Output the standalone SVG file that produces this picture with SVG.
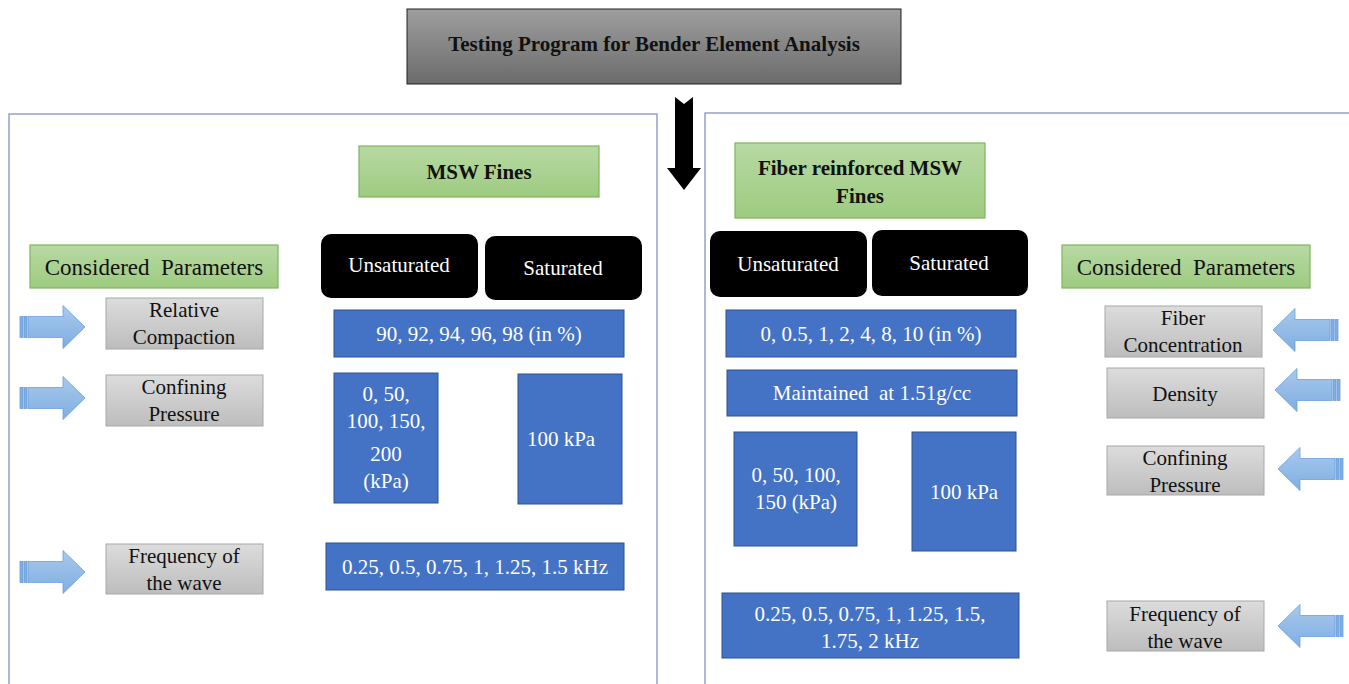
<svg xmlns="http://www.w3.org/2000/svg" width="1349" height="684" viewBox="0 0 1349 684" font-family="'Liberation Serif', serif">
<defs>
<linearGradient id="gTitle" x1="0" y1="0" x2="0" y2="1"><stop offset="0" stop-color="#9e9e9e"/><stop offset="1" stop-color="#6b6b6b"/></linearGradient>
<linearGradient id="gGreen" x1="0" y1="0" x2="0" y2="1"><stop offset="0" stop-color="#b7d9a3"/><stop offset="1" stop-color="#9ecb80"/></linearGradient>
<linearGradient id="gGray" x1="0" y1="0" x2="0" y2="1"><stop offset="0" stop-color="#dcdcdc"/><stop offset="1" stop-color="#bdbdbd"/></linearGradient>
<linearGradient id="gArrow" x1="0" y1="0" x2="0" y2="1"><stop offset="0" stop-color="#a9c9ec"/><stop offset="1" stop-color="#7eaee2"/></linearGradient>
<g id="rarrow">
<rect x="0" y="-10.5" width="3" height="21" fill="#7eaee2" stroke="#6b9fdc" stroke-width="0.8"/>
<rect x="4" y="-10.5" width="3" height="21" fill="#7eaee2" stroke="#6b9fdc" stroke-width="0.8"/>
<path d="M8,-10.5 H43 V-21.5 L65,0 L43,21.5 V10.5 H8 Z" fill="url(#gArrow)" stroke="#6b9fdc" stroke-width="0.8"/>
</g>
</defs>
<style>
text{font-family:'Liberation Serif',serif;text-anchor:middle;white-space:pre}
.b{font-weight:bold;font-size:21px;fill:#111}
.t{font-size:21px;fill:#111}
.w{font-size:21px;fill:#fff}
.cp{font-size:23px;fill:#111}
.panel{fill:#fff;stroke:#8196c2;stroke-width:1.3}
.green{fill:url(#gGreen);stroke:#7fb55c;stroke-width:1.2}
.gray{fill:url(#gGray);stroke:#a8a8a8;stroke-width:1}
.blue{fill:#4472c4;stroke:#2f528f;stroke-width:1}
.blk{fill:#000}
</style>
<rect width="1349" height="684" fill="#fff"/>

<g id="panel-left"><rect class="panel" x="9" y="114" width="648" height="580"/></g>
<g id="panel-right"><rect class="panel" x="705" y="113" width="660" height="580"/></g>

<g id="title">
<rect x="407" y="9" width="494" height="75" fill="url(#gTitle)" stroke="#222" stroke-width="1"/>
<text class="b" x="654" y="51">Testing Program for Bender Element Analysis</text>
</g>

<g id="connectors">
<path d="M675,97 L684,104 L693,97 V168 H701 L684,190 L667,168 H675 Z" fill="#000"/>
<use href="#rarrow" transform="translate(20,327)"/>
<use href="#rarrow" transform="translate(20,398)"/>
<use href="#rarrow" transform="translate(20,572)"/>
<use href="#rarrow" transform="translate(1338,330) scale(-1,1)"/>
<use href="#rarrow" transform="translate(1340,390) scale(-1,1)"/>
<use href="#rarrow" transform="translate(1343,469) scale(-1,1)"/>
<use href="#rarrow" transform="translate(1343,626) scale(-1,1)"/>
</g>

<g id="msw-fines"><rect class="green" x="359" y="146" width="240" height="51"/><text class="b" x="479" y="179">MSW Fines</text></g>
<g id="fiber-msw-fines"><rect class="green" x="735" y="143" width="250" height="75"/><text class="b" x="860" y="175">Fiber reinforced MSW</text><text class="b" x="860" y="203">Fines</text></g>

<g id="considered-left"><rect class="green" x="30" y="245" width="248" height="43"/><text class="cp" x="154" y="275">Considered  Parameters</text></g>
<g id="considered-right"><rect class="green" x="1062" y="245" width="248" height="43"/><text class="cp" x="1186" y="275">Considered  Parameters</text></g>

<g id="unsat-left"><rect class="blk" x="321" y="234" width="157" height="64" rx="10"/><text class="w" x="399" y="272">Unsaturated</text></g>
<g id="sat-left"><rect class="blk" x="485" y="236" width="157" height="64" rx="10"/><text class="w" x="563" y="275">Saturated</text></g>
<g id="unsat-right"><rect class="blk" x="710" y="231" width="157" height="66" rx="10"/><text class="w" x="788" y="271">Unsaturated</text></g>
<g id="sat-right"><rect class="blk" x="872" y="230" width="156" height="66" rx="10"/><text class="w" x="949" y="270">Saturated</text></g>

<g id="rc-values"><rect class="blue" x="334" y="310" width="290" height="47"/><text class="w" x="479" y="341">90, 92, 94, 96, 98 (in %)</text></g>
<g id="cp-unsat-left"><rect class="blue" x="334" y="373" width="104" height="130"/>
<text class="w" x="386" y="401">0, 50,</text><text class="w" x="386" y="428">100, 150,</text><text class="w" x="386" y="461">200</text><text class="w" x="386" y="488">(kPa)</text></g>
<g id="cp-sat-left"><rect class="blue" x="518" y="374" width="104" height="130"/><text class="w" x="561" y="446">100 kPa</text></g>
<g id="freq-left"><rect class="blue" x="326" y="543" width="298" height="47"/><text class="w" x="475" y="574">0.25, 0.5, 0.75, 1, 1.25, 1.5 kHz</text></g>

<g id="fc-values"><rect class="blue" x="726" y="310" width="290" height="47"/><text class="w" x="871" y="341">0, 0.5, 1, 2, 4, 8, 10 (in %)</text></g>
<g id="density-value"><rect class="blue" x="727" y="370" width="290" height="46"/><text class="w" x="872" y="400">Maintained  at 1.51g/cc</text></g>
<g id="cp-unsat-right"><rect class="blue" x="734" y="432" width="123" height="114"/><text class="w" x="796" y="482">0, 50, 100,</text><text class="w" x="796" y="509">150 (kPa)</text></g>
<g id="cp-sat-right"><rect class="blue" x="912" y="432" width="104" height="119"/><text class="w" x="964" y="499">100 kPa</text></g>
<g id="freq-right"><rect class="blue" x="722" y="593" width="297" height="65"/><text class="w" x="870" y="621">0.25, 0.5, 0.75, 1, 1.25, 1.5,</text><text class="w" x="870" y="648">1.75, 2 kHz</text></g>

<g id="p-rel-comp"><rect class="gray" x="106" y="298" width="157" height="51"/><text class="t" x="184" y="317">Relative</text><text class="t" x="184" y="344">Compaction</text></g>
<g id="p-conf-left"><rect class="gray" x="106" y="375" width="157" height="51"/><text class="t" x="184" y="394">Confining</text><text class="t" x="184" y="421">Pressure</text></g>
<g id="p-freq-left"><rect class="gray" x="106" y="544" width="157" height="50"/><text class="t" x="184" y="563">Frequency of</text><text class="t" x="184" y="590">the wave</text></g>

<g id="p-fiber"><rect class="gray" x="1105" y="306" width="157" height="51"/><text class="t" x="1183" y="325">Fiber</text><text class="t" x="1183" y="352">Concentration</text></g>
<g id="p-density"><rect class="gray" x="1107" y="368" width="157" height="50"/><text class="t" x="1185" y="401">Density</text></g>
<g id="p-conf-right"><rect class="gray" x="1107" y="446" width="157" height="49"/><text class="t" x="1185" y="465">Confining</text><text class="t" x="1185" y="492">Pressure</text></g>
<g id="p-freq-right"><rect class="gray" x="1107" y="601" width="157" height="50"/><text class="t" x="1185" y="621">Frequency of</text><text class="t" x="1185" y="648">the wave</text></g>
</svg>
